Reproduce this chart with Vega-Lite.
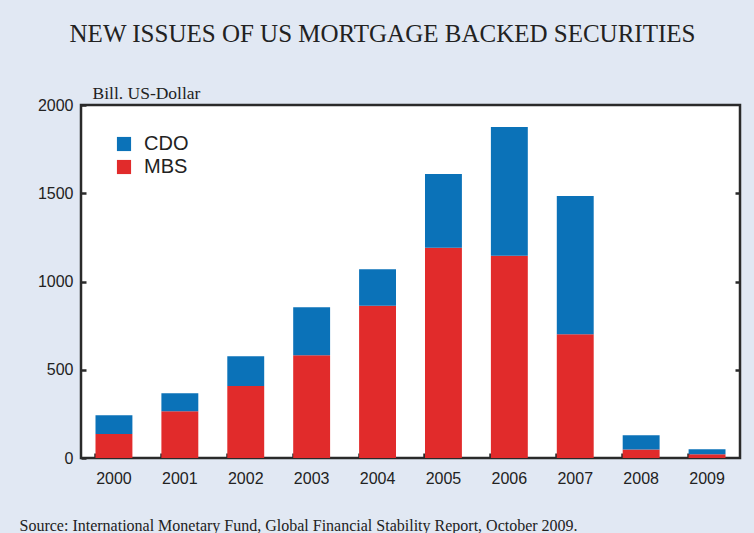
{
  "$schema": "https://vega.github.io/schema/vega-lite/v6.json",
  "width": 659,
  "height": 353,
  "autosize": {"type": "none"},
  "padding": {"left": 81, "top": 105, "right": 14, "bottom": 75},
  "background": "#E1E8F3",
  "title": {
    "text": "NEW ISSUES OF US MORTGAGE BACKED SECURITIES",
    "font": "Liberation Serif",
    "fontSize": 25,
    "fontWeight": "normal",
    "color": "#222222",
    "anchor": "middle",
    "dx": -28,
    "offset": 37
  },
  "data": {
    "values": [
      {"year": "2000", "series": "MBS", "value": 136},
      {"year": "2000", "series": "CDO", "value": 106},
      {"year": "2001", "series": "MBS", "value": 265},
      {"year": "2001", "series": "CDO", "value": 102},
      {"year": "2002", "series": "MBS", "value": 408},
      {"year": "2002", "series": "CDO", "value": 169},
      {"year": "2003", "series": "MBS", "value": 582},
      {"year": "2003", "series": "CDO", "value": 272},
      {"year": "2004", "series": "MBS", "value": 862},
      {"year": "2004", "series": "CDO", "value": 208},
      {"year": "2005", "series": "MBS", "value": 1191},
      {"year": "2005", "series": "CDO", "value": 418},
      {"year": "2006", "series": "MBS", "value": 1146},
      {"year": "2006", "series": "CDO", "value": 729},
      {"year": "2007", "series": "MBS", "value": 701},
      {"year": "2007", "series": "CDO", "value": 783},
      {"year": "2008", "series": "MBS", "value": 48},
      {"year": "2008", "series": "CDO", "value": 81},
      {"year": "2009", "series": "MBS", "value": 21},
      {"year": "2009", "series": "CDO", "value": 28}
    ]
  },
  "config": {
    "view": {"stroke": "#2a2a2a", "strokeWidth": 2.5, "fill": "white"},
    "axis": {
      "labelFont": "Liberation Sans",
      "labelFontSize": 16,
      "labelColor": "#222222",
      "domain": false,
      "grid": false,
      "tickColor": "#2a2a2a",
      "tickWidth": 2.5,
      "tickSize": 5,
      "offset": -5
    }
  },
  "layer": [
    {
      "mark": {"type": "bar"},
      "encoding": {
        "x": {
          "field": "year",
          "type": "ordinal",
          "scale": {"paddingInner": 0.44, "paddingOuter": 0.22},
          "axis": {
            "labelAngle": 0,
            "bandPosition": 0,
            "labelPadding": 12,
            "title": "Source: International Monetary Fund, Global Financial Stability Report, October 2009.",
            "titleFont": "Liberation Serif",
            "titleFontSize": 16,
            "titleFontWeight": "normal",
            "titleColor": "#222222",
            "titleAnchor": "start",
            "titleAlign": "left",
            "titleBaseline": "alphabetic",
            "titleX": -62,
            "titleY": 77
          }
        },
        "y": {
          "field": "value",
          "type": "quantitative",
          "stack": "zero",
          "scale": {"domain": [0, 2000], "nice": false},
          "axis": {
            "values": [0, 500, 1000, 1500, 2000],
            "format": "d",
            "labelPadding": 8,
            "title": "Bill. US-Dollar",
            "titleFont": "Liberation Serif",
            "titleFontSize": 17.5,
            "titleFontWeight": "normal",
            "titleColor": "#222222",
            "titleAngle": 0,
            "titleAlign": "left",
            "titleBaseline": "alphabetic",
            "titleX": 6,
            "titleY": -7
          }
        },
        "color": {
          "field": "series",
          "type": "nominal",
          "scale": {"domain": ["CDO", "MBS"], "range": ["#0B72B8", "#E12B2B"]},
          "legend": {
            "title": null,
            "orient": "none",
            "legendX": 33,
            "legendY": 29,
            "symbolType": "square",
            "symbolSize": 200,
            "symbolStrokeWidth": 0,
            "symbolOpacity": 1,
            "labelFont": "Liberation Sans",
            "labelFontSize": 20,
            "labelColor": "#222222",
            "labelOffset": 10,
            "rowPadding": 3
          }
        },
        "order": {"field": "series", "sort": "descending"}
      }
    },
    {
      "mark": {"type": "bar", "opacity": 0},
      "encoding": {
        "x": {"field": "year", "type": "ordinal"},
        "y": {
          "field": "value",
          "type": "quantitative",
          "stack": "zero",
          "axis": {"orient": "right", "values": [500, 1000, 1500], "labels": false, "title": null}
        }
      }
    }
  ],
  "resolve": {"axis": {"y": "independent"}}
}
